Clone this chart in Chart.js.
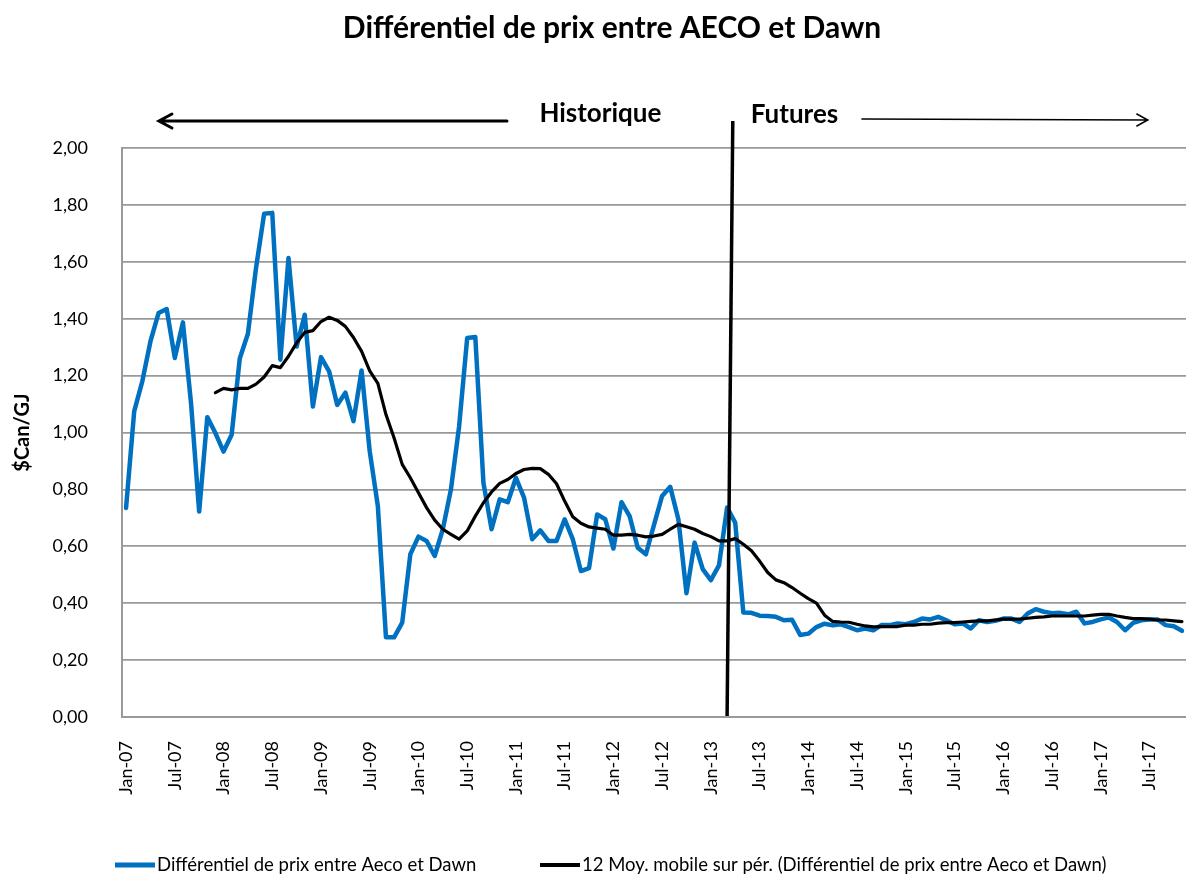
<!DOCTYPE html>
<html>
<head>
<meta charset="utf-8">
<title>Différentiel de prix entre AECO et Dawn</title>
<script src="https://cdn.jsdelivr.net/npm/chart.js@4.4.1/dist/chart.umd.min.js"></script>
<style>
  html, body { margin: 0; padding: 0; background: #fff; overflow: hidden; }
  #wrap { width: 1186px; height: 876px; position: relative; }
</style>
</head>
<body>
<div id="wrap"><canvas id="chart"></canvas></div>
<script>
// Catégories : mois de Jan-07 à Nov-17
const MOIS = ['Jan', 'Feb', 'Mar', 'Apr', 'May', 'Jun', 'Jul', 'Aug', 'Sep', 'Oct', 'Nov', 'Dec'];
const ANNEES = ['07', '08', '09', '10', '11', '12', '13', '14', '15', '16', '17'];
const categories = [];
ANNEES.forEach(a => MOIS.forEach(m => categories.push(m + '-' + a)));
categories.length = 131; // dernier mois : Nov-17

// $Can/GJ
const differentiel = [
  0.735, 1.074, 1.18, 1.32, 1.42, 1.434, 1.262, 1.387, 1.103, 0.722, 1.054, 0.998,
  0.933, 0.992, 1.26, 1.347, 1.578, 1.769, 1.772, 1.256, 1.613, 1.302, 1.414, 1.091,
  1.265, 1.215, 1.097, 1.14, 1.04, 1.218, 0.934, 0.741, 0.28, 0.28, 0.332, 0.572,
  0.634, 0.619, 0.566, 0.66, 0.80, 1.02, 1.332, 1.336, 0.823, 0.66, 0.765, 0.755,
  0.841, 0.771, 0.625, 0.656, 0.619, 0.619, 0.695, 0.625, 0.513, 0.523, 0.712, 0.695,
  0.592, 0.755, 0.706, 0.595, 0.572, 0.675, 0.777, 0.809, 0.695, 0.435, 0.613, 0.52,
  0.481, 0.533, 0.736, 0.683, 0.367, 0.366, 0.356, 0.355, 0.352, 0.34, 0.342, 0.288,
  0.293, 0.316, 0.328, 0.322, 0.326, 0.316, 0.305, 0.311, 0.305, 0.323, 0.323, 0.329,
  0.326, 0.334, 0.346, 0.343, 0.352, 0.34, 0.326, 0.329, 0.311, 0.34, 0.334, 0.338,
  0.346, 0.346, 0.334, 0.364, 0.379, 0.37, 0.365, 0.366, 0.361, 0.37, 0.329, 0.334,
  0.343, 0.35, 0.334, 0.305, 0.331, 0.34, 0.343, 0.343, 0.323, 0.319, 0.303
];

const moyenneMobile = [
  null, null, null, null, null, null, null, null, null, null, null, 1.14,
  1.155, 1.15, 1.155, 1.155, 1.17, 1.195, 1.235, 1.228, 1.268, 1.315, 1.352, 1.358,
  1.39, 1.405, 1.394, 1.373, 1.334, 1.285, 1.217, 1.173, 1.063, 0.981, 0.888, 0.841,
  0.788, 0.736, 0.692, 0.66, 0.642, 0.625, 0.654, 0.706, 0.753, 0.791, 0.821, 0.835,
  0.856, 0.87, 0.874, 0.873, 0.853, 0.82, 0.759, 0.704, 0.681, 0.668, 0.664, 0.66,
  0.639, 0.639, 0.642, 0.639, 0.633, 0.636, 0.642, 0.66, 0.677, 0.669, 0.66, 0.645,
  0.634, 0.619, 0.619, 0.627, 0.607, 0.584, 0.548, 0.508, 0.482, 0.472, 0.455, 0.435,
  0.416, 0.40, 0.358, 0.336, 0.334, 0.333, 0.326, 0.32, 0.317, 0.318, 0.318, 0.318,
  0.323, 0.323, 0.326, 0.326, 0.33, 0.332, 0.332, 0.334, 0.336, 0.338, 0.338, 0.341,
  0.344, 0.344, 0.344, 0.347, 0.35, 0.352, 0.355, 0.355, 0.355, 0.355, 0.355, 0.358,
  0.361, 0.361, 0.355, 0.35, 0.346, 0.346, 0.344, 0.341, 0.341, 0.338, 0.335
];

const Y_MIN = 0, Y_MAX = 2, Y_PAS = 0.2;
const PAS_ETIQUETTES = 6; // une étiquette tous les 6 mois
const DEBUT_FUTURES = 74; // Mar-13

const TITRE = 'Différentiel de prix entre AECO et Dawn';
const NOM_SERIE = 'Différentiel de prix entre Aeco et Dawn';
const NOM_MOYENNE = '12 Moy. mobile sur pér. (Différentiel de prix entre Aeco et Dawn)';

const BLEU = '#0070C0';
const POLICE = 'Lato, "Open Sans", sans-serif';
Chart.defaults.font.family = POLICE;
Chart.defaults.color = '#000';

// titre, flèches, ligne verticale et légende
const decor = {
  id: 'decor',
  afterDraw(chart) {
    const { ctx, chartArea, scales: { x, y } } = chart;
    const yFleche = chartArea.top - 27;
    ctx.save();
    ctx.fillStyle = '#000';
    ctx.strokeStyle = '#000';
    ctx.textBaseline = 'middle';

    ctx.font = 'bold 30px ' + POLICE;
    ctx.textAlign = 'center';
    ctx.fillText(TITRE, 612, 28);

    ctx.font = 'bold 26px ' + POLICE;
    ctx.fillText('Historique', x.getPixelForValue(58.4), yFleche - 7);
    ctx.fillText('Futures', x.getPixelForValue(82.3), yFleche - 6);

    // flèche gauche (épaisse)
    let x1 = x.getPixelForValue(4.05), x2 = x.getPixelForValue(46.9);
    ctx.lineWidth = 3;
    ctx.lineCap = 'round';
    ctx.beginPath();
    ctx.moveTo(x2, yFleche); ctx.lineTo(x1, yFleche);
    ctx.moveTo(x1 + 13, yFleche - 7); ctx.lineTo(x1, yFleche); ctx.lineTo(x1 + 13, yFleche + 7);
    ctx.stroke();

    // flèche droite (fine)
    x1 = x.getPixelForValue(90.6); x2 = x.getPixelForValue(125.8);
    ctx.lineWidth = 1.5;
    ctx.beginPath();
    ctx.moveTo(x1, yFleche - 2); ctx.lineTo(x2, yFleche - 1);
    ctx.moveTo(x2 - 11, yFleche - 7); ctx.lineTo(x2, yFleche - 1); ctx.lineTo(x2 - 11, yFleche + 5);
    ctx.stroke();

    // séparation historique / futures
    ctx.lineWidth = 3.5;
    ctx.lineCap = 'butt';
    ctx.beginPath();
    ctx.moveTo(x.getPixelForValue(DEBUT_FUTURES + 0.7), yFleche);
    ctx.lineTo(x.getPixelForValue(DEBUT_FUTURES), y.getPixelForValue(Y_MIN) - 1);
    ctx.stroke();

    // légende
    const yLeg = 865;
    ctx.font = '18.5px ' + POLICE;
    ctx.textAlign = 'left';
    const items = [
      { x0: 115, couleur: BLEU, ep: 5, texte: NOM_SERIE },
      { x0: 540, couleur: '#000', ep: 4, texte: NOM_MOYENNE }
    ];
    items.forEach(it => {
      ctx.fillStyle = it.couleur;
      ctx.fillRect(it.x0, yLeg - it.ep / 2, 40, it.ep);
      ctx.fillStyle = '#000';
      ctx.fillText(it.texte, it.x0 + 42, yLeg);
    });
    ctx.restore();
  }
};

new Chart(document.getElementById('chart'), {
  type: 'line',
  data: {
    labels: categories,
    datasets: [{
      label: NOM_SERIE,
      data: differentiel,
      borderColor: BLEU,
      backgroundColor: BLEU,
      borderWidth: 4.5,
      pointRadius: 0,
      tension: 0,
      borderJoinStyle: 'round',
      borderCapStyle: 'round',
      order: 2
    }, {
      label: NOM_MOYENNE,
      data: moyenneMobile,
      borderColor: '#000',
      backgroundColor: '#000',
      borderWidth: 3.2,
      pointRadius: 0,
      tension: 0,
      borderJoinStyle: 'round',
      borderCapStyle: 'round',
      order: 1
    }]
  },
  options: {
    responsive: true,
    maintainAspectRatio: false,
    animation: false,
    layout: { padding: { top: 148, left: 0, right: 0, bottom: 49 } },
    plugins: {
      legend: { display: false },
      title: { display: false },
      tooltip: { enabled: false }
    },
    scales: {
      x: {
        offset: true,
        grid: { display: false, drawTicks: false },
        border: { display: true, color: '#999', width: 2 },
        ticks: {
          autoSkip: false,
          minRotation: 90,
          maxRotation: 90,
          padding: 24,
          font: { size: 18 }
        },
        afterBuildTicks: s => { s.ticks = s.ticks.filter(t => t.value % PAS_ETIQUETTES === 0); },
        afterFit: s => { s.height = 110; s.paddingRight = 0; s.paddingLeft = 0; }
      },
      y: {
        min: Y_MIN,
        max: Y_MAX,
        grid: { color: '#999', lineWidth: 1.8, drawTicks: false },
        border: { display: true, color: '#999', width: 2 },
        ticks: {
          stepSize: Y_PAS,
          padding: 34,
          font: { size: 18 },
          callback: v => v.toFixed(2).replace('.', ',')
        },
        title: {
          display: true,
          text: '$Can/GJ',
          font: { size: 20, weight: 'bold' },
          padding: { top: 11, bottom: 0 }
        },
        afterFit: s => { s.width = 122; }
      }
    }
  },
  plugins: [decor]
});
</script>
</body>
</html>
